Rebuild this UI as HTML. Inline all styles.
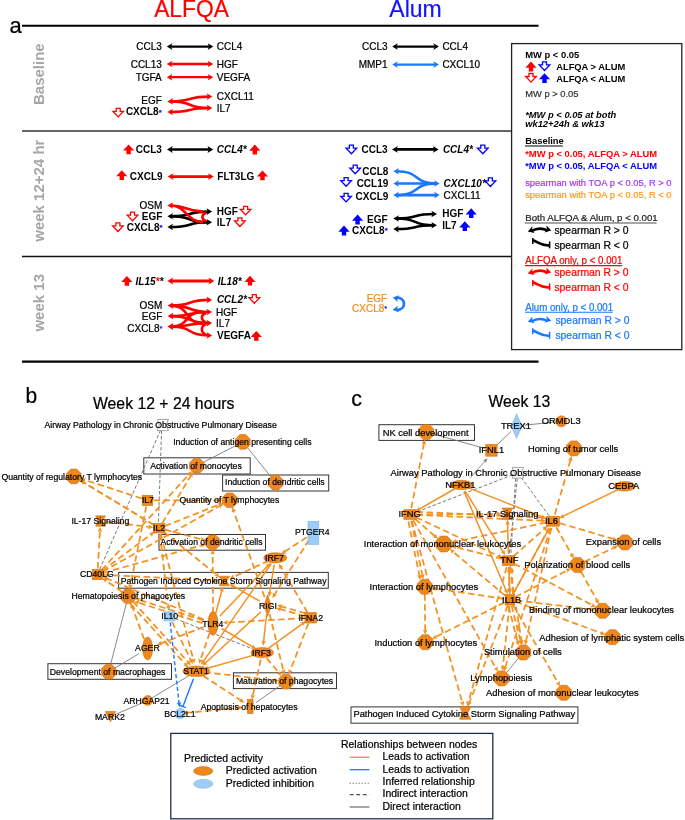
<!DOCTYPE html>
<html><head><meta charset="utf-8"><style>
html,body{margin:0;padding:0;background:#fff;width:685px;height:820px;overflow:hidden}
svg{display:block;font-family:"Liberation Sans",sans-serif;will-change:transform}
</style></head><body>
<svg width="685" height="820" viewBox="0 0 685 820">
<rect width="685" height="820" fill="#fff"/>
<text x="9.5" y="33.5" font-size="22" fill="#000" stroke="#000" stroke-width="0.22" transform="matrix(1,0,0,1.03,0,-1.005)">a</text>
<line x1="22" y1="25.8" x2="538.5" y2="25.8" stroke="#000" stroke-width="2.1"/>
<text x="191.5" y="16.5" font-size="22.8" text-anchor="middle" fill="#ff0000" stroke="#ff0000" stroke-width="0.22" transform="matrix(1,0,0,1.03,0,-0.495)">ALFQA</text>
<text x="415.5" y="16.5" font-size="23" text-anchor="middle" fill="#1414ff" stroke="#1414ff" stroke-width="0.22" transform="matrix(1,0,0,1.03,0,-0.495)">Alum</text>
<line x1="22" y1="131" x2="511" y2="131" stroke="#333" stroke-width="1.4"/>
<line x1="22" y1="256.5" x2="511" y2="256.5" stroke="#111" stroke-width="1.4"/>
<line x1="22" y1="361.6" x2="538.5" y2="361.6" stroke="#000" stroke-width="2.3"/>
<text transform="translate(43.8,74.2) rotate(-90)" x="0" y="0" text-anchor="middle" font-size="15" font-weight="bold" fill="#a6a6a6">Baseline</text>
<text transform="translate(43.8,190.7) rotate(-90)" x="0" y="0" text-anchor="middle" font-size="15" font-weight="bold" fill="#a6a6a6">week 12+24 hr</text>
<text transform="translate(43.8,302.8) rotate(-90)" x="0" y="0" text-anchor="middle" font-size="15" font-weight="bold" fill="#a6a6a6">week 13</text>
<text x="161.8" y="50.2" font-size="10" text-anchor="end" fill="#000" stroke="#000" stroke-width="0.22" transform="matrix(1,0,0,1.03,0,-1.506)">CCL3</text>
<line x1="169.8" y1="46.6" x2="210.3" y2="46.6" stroke="#000" stroke-width="2.3"/>
<polygon points="166.80,46.60 172.40,43.30 171.00,46.60 172.40,49.90" fill="#000"/>
<polygon points="213.30,46.60 207.70,49.90 209.10,46.60 207.70,43.30" fill="#000"/>
<text x="216.8" y="50.2" font-size="10" fill="#000" stroke="#000" stroke-width="0.22" transform="matrix(1,0,0,1.03,0,-1.506)">CCL4</text>
<text x="161.8" y="67.6" font-size="10" text-anchor="end" fill="#000" stroke="#000" stroke-width="0.22" transform="matrix(1,0,0,1.03,0,-2.028)">CCL13</text>
<line x1="169.8" y1="64.0" x2="210.3" y2="64.0" stroke="#ff0000" stroke-width="2.3"/>
<polygon points="166.80,64.00 172.40,60.70 171.00,64.00 172.40,67.30" fill="#ff0000"/>
<polygon points="213.30,64.00 207.70,67.30 209.10,64.00 207.70,60.70" fill="#ff0000"/>
<text x="216.8" y="67.6" font-size="10" fill="#000" stroke="#000" stroke-width="0.22" transform="matrix(1,0,0,1.03,0,-2.028)">HGF</text>
<text x="161.8" y="80.9" font-size="10" text-anchor="end" fill="#000" stroke="#000" stroke-width="0.22" transform="matrix(1,0,0,1.03,0,-2.427)">TGFA</text>
<line x1="169.8" y1="77.2" x2="210.3" y2="77.2" stroke="#ff0000" stroke-width="2.3"/>
<polygon points="166.80,77.20 172.40,73.90 171.00,77.20 172.40,80.50" fill="#ff0000"/>
<polygon points="213.30,77.20 207.70,80.50 209.10,77.20 207.70,73.90" fill="#ff0000"/>
<text x="216.8" y="80.9" font-size="10" fill="#000" stroke="#000" stroke-width="0.22" transform="matrix(1,0,0,1.03,0,-2.427)">VEGFA</text>
<text x="161.8" y="104.4" font-size="10" text-anchor="end" fill="#000" stroke="#000" stroke-width="0.22" transform="matrix(1,0,0,1.03,0,-3.132)">EGF</text>
<text x="161.6" y="115.4" font-size="10" font-weight="bold" text-anchor="end" fill="#000" transform="matrix(1,0,0,1.03,0,-3.462)">CXCL8<tspan fill="#0000ff" stroke="#0000ff" stroke-width="0.15" font-size="7.5" dy="-0.8">*</tspan></text>
<polygon points="118.20,116.90 123.50,111.30 120.20,111.30 120.20,108.30 116.20,108.30 116.20,111.30 112.90,111.30" fill="#fff" stroke="#ff0000" stroke-width="1.3" stroke-linejoin="miter"/>
<text x="216.8" y="99.7" font-size="10" fill="#000" stroke="#000" stroke-width="0.22" transform="matrix(1,0,0,1.03,0,-2.991)">CXCL11</text>
<text x="216.8" y="112.5" font-size="10" fill="#000" stroke="#000" stroke-width="0.22" transform="matrix(1,0,0,1.03,0,-3.375)">IL7</text>
<path d="M170.4,101.4 C194.34,101.4 185.36,96.6 209.3,96.6" fill="none" stroke="#ff0000" stroke-width="2.6"/>
<polygon points="167.40,101.40 173.00,98.10 171.60,101.40 173.00,104.70" fill="#ff0000"/>
<polygon points="212.30,96.60 206.70,99.90 208.10,96.60 206.70,93.30" fill="#ff0000"/>
<path d="M170.4,101.4 C194.34,101.4 185.36,108.0 209.3,108.0" fill="none" stroke="#ff0000" stroke-width="2.6"/>
<polygon points="212.30,108.00 206.70,111.30 208.10,108.00 206.70,104.70" fill="#ff0000"/>
<path d="M170.4,112.0 C194.34,112.0 185.36,108.0 209.3,108.0" fill="none" stroke="#ff0000" stroke-width="2.6"/>
<polygon points="167.40,112.00 173.00,108.70 171.60,112.00 173.00,115.30" fill="#ff0000"/>
<text x="387.6" y="50.3" font-size="10" text-anchor="end" fill="#000" stroke="#000" stroke-width="0.22" transform="matrix(1,0,0,1.03,0,-1.509)">CCL3</text>
<line x1="395.2" y1="46.6" x2="435.9" y2="46.6" stroke="#000" stroke-width="2.3"/>
<polygon points="392.20,46.60 397.80,43.30 396.40,46.60 397.80,49.90" fill="#000"/>
<polygon points="438.90,46.60 433.30,49.90 434.70,46.60 433.30,43.30" fill="#000"/>
<text x="442.4" y="50.3" font-size="10" fill="#000" stroke="#000" stroke-width="0.22" transform="matrix(1,0,0,1.03,0,-1.509)">CCL4</text>
<text x="387.6" y="68.1" font-size="10" text-anchor="end" fill="#000" stroke="#000" stroke-width="0.22" transform="matrix(1,0,0,1.03,0,-2.043)">MMP1</text>
<line x1="395.2" y1="64.6" x2="435.9" y2="64.6" stroke="#1a78ff" stroke-width="2.3"/>
<polygon points="392.20,64.60 397.80,61.30 396.40,64.60 397.80,67.90" fill="#1a78ff"/>
<polygon points="438.90,64.60 433.30,67.90 434.70,64.60 433.30,61.30" fill="#1a78ff"/>
<text x="442.4" y="68.1" font-size="10" fill="#000" stroke="#000" stroke-width="0.22" transform="matrix(1,0,0,1.03,0,-2.043)">CXCL10</text>
<polygon points="128.60,144.40 134.20,150.50 130.80,150.50 130.80,154.20 126.40,154.20 126.40,150.50 123.00,150.50" fill="#ff0000"/>
<text x="161.8" y="153.0" font-size="10" font-weight="bold" text-anchor="end" fill="#000" transform="matrix(1,0,0,1.03,0,-4.590)">CCL3</text>
<line x1="170.0" y1="149.5" x2="210.3" y2="149.5" stroke="#000" stroke-width="2.7"/>
<polygon points="167.00,149.50 172.80,146.05 171.40,149.50 172.80,152.95" fill="#000"/>
<polygon points="213.30,149.50 207.50,152.95 208.90,149.50 207.50,146.05" fill="#000"/>
<text x="216.8" y="153.0" font-size="10" font-weight="bold" font-style="italic" fill="#000" transform="matrix(1,0,0,1.03,0,-4.590)">CCL4*</text>
<polygon points="254.80,144.60 260.40,150.70 257.00,150.70 257.00,154.40 252.60,154.40 252.60,150.70 249.20,150.70" fill="#ff0000"/>
<polygon points="121.80,170.20 127.40,176.30 124.00,176.30 124.00,180.00 119.60,180.00 119.60,176.30 116.20,176.30" fill="#ff0000"/>
<text x="162.6" y="180.5" font-size="10" font-weight="bold" text-anchor="end" fill="#000" transform="matrix(1,0,0,1.03,0,-5.415)">CXCL9</text>
<line x1="170.7" y1="176.6" x2="210.8" y2="176.6" stroke="#ff0000" stroke-width="2.7"/>
<polygon points="167.70,176.60 173.50,173.15 172.10,176.60 173.50,180.05" fill="#ff0000"/>
<polygon points="213.80,176.60 208.00,180.05 209.40,176.60 208.00,173.15" fill="#ff0000"/>
<text x="217.3" y="180.5" font-size="10" font-weight="bold" fill="#000" transform="matrix(1,0,0,1.03,0,-5.415)">FLT3LG</text>
<polygon points="262.50,170.40 268.10,176.50 264.70,176.50 264.70,180.20 260.30,180.20 260.30,176.50 256.90,176.50" fill="#ff0000"/>
<text x="162.3" y="208.9" font-size="10" text-anchor="end" fill="#000" stroke="#000" stroke-width="0.22" transform="matrix(1,0,0,1.03,0,-6.267)">OSM</text>
<text x="162.3" y="220.2" font-size="10" font-weight="bold" text-anchor="end" fill="#000" transform="matrix(1,0,0,1.03,0,-6.606)">EGF</text>
<polygon points="132.50,220.70 137.80,215.10 134.50,215.10 134.50,212.10 130.50,212.10 130.50,215.10 127.20,215.10" fill="#fff" stroke="#ff0000" stroke-width="1.3" stroke-linejoin="miter"/>
<text x="162.4" y="231.2" font-size="10" font-weight="bold" text-anchor="end" fill="#000" transform="matrix(1,0,0,1.03,0,-6.936)">CXCL8<tspan fill="#0000ff" stroke="#0000ff" stroke-width="0.15" font-size="7.5" dy="-0.8">*</tspan></text>
<polygon points="117.90,231.50 123.20,225.90 119.90,225.90 119.90,222.90 115.90,222.90 115.90,225.90 112.60,225.90" fill="#fff" stroke="#ff0000" stroke-width="1.3" stroke-linejoin="miter"/>
<text x="216.8" y="215.0" font-size="10" font-weight="bold" fill="#000" transform="matrix(1,0,0,1.03,0,-6.450)">HGF</text>
<polygon points="245.60,214.90 250.90,209.30 247.60,209.30 247.60,206.30 243.60,206.30 243.60,209.30 240.30,209.30" fill="#fff" stroke="#ff0000" stroke-width="1.3" stroke-linejoin="miter"/>
<text x="216.8" y="226.0" font-size="10" font-weight="bold" fill="#000" transform="matrix(1,0,0,1.03,0,-6.780)">IL7</text>
<polygon points="239.90,226.50 245.20,220.90 241.90,220.90 241.90,217.90 237.90,217.90 237.90,220.90 234.60,220.90" fill="#fff" stroke="#ff0000" stroke-width="1.3" stroke-linejoin="miter"/>
<path d="M170.4,216.2 C194.22,216.2 185.28,211.6 209.1,211.6" fill="none" stroke="#000" stroke-width="2.6"/>
<polygon points="167.40,216.20 173.00,212.90 171.60,216.20 173.00,219.50" fill="#000"/>
<polygon points="212.10,211.60 206.50,214.90 207.90,211.60 206.50,208.30" fill="#000"/>
<path d="M170.4,216.2 C194.22,216.2 185.28,222.3 209.1,222.3" fill="none" stroke="#000" stroke-width="2.6"/>
<polygon points="212.10,222.30 206.50,225.60 207.90,222.30 206.50,219.00" fill="#000"/>
<path d="M170.4,227.0 C194.22,227.0 185.28,222.3 209.1,222.3" fill="none" stroke="#000" stroke-width="2.6"/>
<polygon points="167.40,227.00 173.00,223.70 171.60,227.00 173.00,230.30" fill="#000"/>
<path d="M170.4,205.5 C186.7,205.5 186.7,211.6 203.0,211.6" fill="none" stroke="#ff0000" stroke-width="2.6"/>
<polygon points="167.40,205.50 173.00,202.20 171.60,205.50 173.00,208.80" fill="#ff0000"/>
<path d="M170.4,205.5 C186.7,205.5 186.7,222.3 203.0,222.3" fill="none" stroke="#ff0000" stroke-width="2.6"/>
<path d="M206.5,212.5 C201,214.5 201,219.5 206.5,221.5" fill="none" stroke="#ff0000" stroke-width="2.6"/>
<polygon points="351.40,153.70 356.70,148.10 353.40,148.10 353.40,145.10 349.40,145.10 349.40,148.10 346.10,148.10" fill="#fff" stroke="#0000ff" stroke-width="1.3" stroke-linejoin="miter"/>
<text x="387.6" y="152.9" font-size="10" font-weight="bold" text-anchor="end" fill="#000" transform="matrix(1,0,0,1.03,0,-4.587)">CCL3</text>
<line x1="395.0" y1="149.4" x2="435.7" y2="149.4" stroke="#000" stroke-width="2.7"/>
<polygon points="392.00,149.40 397.80,145.95 396.40,149.40 397.80,152.85" fill="#000"/>
<polygon points="438.70,149.40 432.90,152.85 434.30,149.40 432.90,145.95" fill="#000"/>
<text x="442.9" y="152.9" font-size="10" font-weight="bold" font-style="italic" fill="#000" transform="matrix(1,0,0,1.03,0,-4.587)">CCL4*</text>
<polygon points="482.80,153.70 488.10,148.10 484.80,148.10 484.80,145.10 480.80,145.10 480.80,148.10 477.50,148.10" fill="#fff" stroke="#0000ff" stroke-width="1.3" stroke-linejoin="miter"/>
<polygon points="355.20,173.70 360.50,168.10 357.20,168.10 357.20,165.10 353.20,165.10 353.20,168.10 349.90,168.10" fill="#fff" stroke="#0000ff" stroke-width="1.3" stroke-linejoin="miter"/>
<text x="388.3" y="174.7" font-size="10" font-weight="bold" text-anchor="end" fill="#000" transform="matrix(1,0,0,1.03,0,-5.241)">CCL8</text>
<polygon points="346.10,186.30 351.40,180.70 348.10,180.70 348.10,177.70 344.10,177.70 344.10,180.70 340.80,180.70" fill="#fff" stroke="#0000ff" stroke-width="1.3" stroke-linejoin="miter"/>
<text x="388.3" y="187.1" font-size="10" font-weight="bold" text-anchor="end" fill="#000" transform="matrix(1,0,0,1.03,0,-5.613)">CCL19</text>
<polygon points="346.10,201.90 351.40,196.30 348.10,196.30 348.10,193.30 344.10,193.30 344.10,196.30 340.80,196.30" fill="#fff" stroke="#0000ff" stroke-width="1.3" stroke-linejoin="miter"/>
<text x="388.3" y="199.9" font-size="10" font-weight="bold" text-anchor="end" fill="#000" transform="matrix(1,0,0,1.03,0,-5.997)">CXCL9</text>
<text x="443.6" y="187.1" font-size="10" font-weight="bold" font-style="italic" fill="#000" transform="matrix(1,0,0,1.03,0,-5.613)">CXCL10*</text>
<polygon points="490.40,186.50 495.70,180.90 492.40,180.90 492.40,177.90 488.40,177.90 488.40,180.90 485.10,180.90" fill="#fff" stroke="#0000ff" stroke-width="1.3" stroke-linejoin="miter"/>
<text x="443.6" y="198.6" font-size="10" fill="#000" stroke="#000" stroke-width="0.22" transform="matrix(1,0,0,1.03,0,-5.958)">CXCL11</text>
<path d="M396.3,171.2 C421.14,171.2 411.86,183.5 436.7,183.5" fill="none" stroke="#1a78ff" stroke-width="2.6"/>
<polygon points="393.30,171.20 398.90,167.90 397.50,171.20 398.90,174.50" fill="#1a78ff"/>
<path d="M396.3,183.5 C421.14,183.5 411.86,183.5 436.7,183.5" fill="none" stroke="#1a78ff" stroke-width="2.6"/>
<polygon points="393.30,183.50 398.90,180.20 397.50,183.50 398.90,186.80" fill="#1a78ff"/>
<polygon points="439.70,183.50 434.10,186.80 435.50,183.50 434.10,180.20" fill="#1a78ff"/>
<path d="M396.3,195.1 C421.14,195.1 411.86,183.5 436.7,183.5" fill="none" stroke="#1a78ff" stroke-width="2.6"/>
<path d="M396.3,195.1 C421.14,195.1 411.86,195.1 436.7,195.1" fill="none" stroke="#1a78ff" stroke-width="2.6"/>
<polygon points="393.30,195.10 398.90,191.80 397.50,195.10 398.90,198.40" fill="#1a78ff"/>
<polygon points="439.70,195.10 434.10,198.40 435.50,195.10 434.10,191.80" fill="#1a78ff"/>
<polygon points="357.60,214.60 363.20,220.70 359.80,220.70 359.80,224.40 355.40,224.40 355.40,220.70 352.00,220.70" fill="#0000ff"/>
<text x="387.6" y="222.7" font-size="10" font-weight="bold" text-anchor="end" fill="#000" transform="matrix(1,0,0,1.03,0,-6.681)">EGF</text>
<polygon points="344.00,225.60 349.60,231.70 346.20,231.70 346.20,235.40 341.80,235.40 341.80,231.70 338.40,231.70" fill="#0000ff"/>
<text x="387.6" y="234.1" font-size="10" font-weight="bold" text-anchor="end" fill="#000" transform="matrix(1,0,0,1.03,0,-7.023)">CXCL8<tspan fill="#0000ff" stroke="#0000ff" stroke-width="0.15" font-size="7.5" dy="-0.8">*</tspan></text>
<text x="442.2" y="217.2" font-size="10" font-weight="bold" fill="#000" transform="matrix(1,0,0,1.03,0,-6.516)">HGF</text>
<polygon points="471.20,208.30 476.80,214.40 473.40,214.40 473.40,218.10 469.00,218.10 469.00,214.40 465.60,214.40" fill="#0000ff"/>
<text x="442.2" y="229.1" font-size="10" font-weight="bold" fill="#000" transform="matrix(1,0,0,1.03,0,-6.873)">IL7</text>
<polygon points="464.80,221.30 470.40,227.40 467.00,227.40 467.00,231.10 462.60,231.10 462.60,227.40 459.20,227.40" fill="#0000ff"/>
<path d="M396.3,218.5 C419.52,218.5 410.78000000000003,214.0 434.0,214.0" fill="none" stroke="#000" stroke-width="2.6"/>
<polygon points="393.30,218.50 398.90,215.20 397.50,218.50 398.90,221.80" fill="#000"/>
<polygon points="437.00,214.00 431.40,217.30 432.80,214.00 431.40,210.70" fill="#000"/>
<path d="M396.3,218.5 C419.52,218.5 410.78000000000003,225.2 434.0,225.2" fill="none" stroke="#000" stroke-width="2.6"/>
<polygon points="437.00,225.20 431.40,228.50 432.80,225.20 431.40,221.90" fill="#000"/>
<path d="M396.3,229.1 C419.52,229.1 410.78000000000003,225.2 434.0,225.2" fill="none" stroke="#000" stroke-width="2.6"/>
<polygon points="393.30,229.10 398.90,225.80 397.50,229.10 398.90,232.40" fill="#000"/>
<polygon points="126.90,276.00 132.50,282.10 129.10,282.10 129.10,285.80 124.70,285.80 124.70,282.10 121.30,282.10" fill="#ff0000"/>
<text x="135.5" y="285.0" font-size="10" font-weight="bold" font-style="italic" fill="#000" transform="matrix(1,0,0,1.03,0,-8.550)">IL15<tspan fill="#ff0000" stroke="none">*</tspan>*</text>
<line x1="170.4" y1="281.0" x2="211.3" y2="281.0" stroke="#ff0000" stroke-width="2.8"/>
<polygon points="167.40,281.00 173.20,277.55 171.80,281.00 173.20,284.45" fill="#ff0000"/>
<polygon points="214.30,281.00 208.50,284.45 209.90,281.00 208.50,277.55" fill="#ff0000"/>
<text x="217.7" y="285.0" font-size="10" font-weight="bold" font-style="italic" fill="#000" transform="matrix(1,0,0,1.03,0,-8.550)">IL18*</text>
<polygon points="250.00,275.80 255.60,281.90 252.20,281.90 252.20,285.60 247.80,285.60 247.80,281.90 244.40,281.90" fill="#ff0000"/>
<text x="216.9" y="303.4" font-size="10" font-weight="bold" font-style="italic" fill="#000" transform="matrix(1,0,0,1.03,0,-9.102)">CCL2*</text>
<polygon points="254.30,303.30 259.60,297.70 256.30,297.70 256.30,294.70 252.30,294.70 252.30,297.70 249.00,297.70" fill="#fff" stroke="#ff0000" stroke-width="1.3" stroke-linejoin="miter"/>
<text x="162.3" y="309.1" font-size="10" text-anchor="end" fill="#000" stroke="#000" stroke-width="0.22" transform="matrix(1,0,0,1.03,0,-9.273)">OSM</text>
<text x="162.3" y="320.4" font-size="10" text-anchor="end" fill="#000" stroke="#000" stroke-width="0.22" transform="matrix(1,0,0,1.03,0,-9.612)">EGF</text>
<text x="162.4" y="331.7" font-size="10" text-anchor="end" fill="#000" stroke="#000" stroke-width="0.22" transform="matrix(1,0,0,1.03,0,-9.951)">CXCL8<tspan fill="#0000ff" stroke="#0000ff" stroke-width="0.15" font-size="7.5" dy="-0.8">*</tspan></text>
<text x="216.1" y="315.7" font-size="10" fill="#000" stroke="#000" stroke-width="0.22" transform="matrix(1,0,0,1.03,0,-9.471)">HGF</text>
<text x="216.1" y="327.0" font-size="10" fill="#000" stroke="#000" stroke-width="0.22" transform="matrix(1,0,0,1.03,0,-9.810)">IL7</text>
<text x="217.0" y="339.3" font-size="10" font-weight="bold" fill="#000" transform="matrix(1,0,0,1.03,0,-10.179)">VEGFA</text>
<polygon points="256.30,331.00 261.90,337.10 258.50,337.10 258.50,340.80 254.10,340.80 254.10,337.10 250.70,337.10" fill="#ff0000"/>
<path d="M170.7,305.6 C194.34,305.6 185.45999999999998,299.9 209.1,299.9" fill="none" stroke="#ff0000" stroke-width="2.6"/>
<polygon points="167.70,305.60 173.30,302.30 171.90,305.60 173.30,308.90" fill="#ff0000"/>
<polygon points="212.10,299.90 206.50,303.20 207.90,299.90 206.50,296.60" fill="#ff0000"/>
<path d="M170.7,305.6 C194.34,305.6 185.45999999999998,312.0 209.1,312.0" fill="none" stroke="#ff0000" stroke-width="2.6"/>
<polygon points="212.10,312.00 206.50,315.30 207.90,312.00 206.50,308.70" fill="#ff0000"/>
<path d="M170.7,305.6 C190.68,305.6 183.01999999999998,323.1 203.0,323.1" fill="none" stroke="#ff0000" stroke-width="2.6"/>
<path d="M170.7,316.1 C194.34,316.1 185.45999999999998,312.0 209.1,312.0" fill="none" stroke="#ff0000" stroke-width="2.6"/>
<polygon points="167.70,316.10 173.30,312.80 171.90,316.10 173.30,319.40" fill="#ff0000"/>
<path d="M170.7,316.1 C194.34,316.1 185.45999999999998,323.1 209.1,323.1" fill="none" stroke="#ff0000" stroke-width="2.6"/>
<polygon points="212.10,323.10 206.50,326.40 207.90,323.10 206.50,319.80" fill="#ff0000"/>
<path d="M170.7,326.6 C190.68,326.6 183.01999999999998,312.0 203.0,312.0" fill="none" stroke="#ff0000" stroke-width="2.6"/>
<polygon points="167.70,326.60 173.30,323.30 171.90,326.60 173.30,329.90" fill="#ff0000"/>
<path d="M170.7,326.6 C194.34,326.6 185.45999999999998,323.1 209.1,323.1" fill="none" stroke="#ff0000" stroke-width="2.6"/>
<path d="M170.7,326.6 C194.34,326.6 185.45999999999998,335.4 209.1,335.4" fill="none" stroke="#ff0000" stroke-width="2.6"/>
<polygon points="167.70,326.60 173.30,323.30 171.90,326.60 173.30,329.90" fill="#ff0000"/>
<polygon points="212.10,335.40 206.50,338.70 207.90,335.40 206.50,332.10" fill="#ff0000"/>
<path d="M206,313.0 C200.5,315.0 200.5,320.1 206,322.6" fill="none" stroke="#ff0000" stroke-width="2.6"/>
<path d="M206,324.1 C200.5,326.1 200.5,332.4 206,334.9" fill="none" stroke="#ff0000" stroke-width="2.6"/>
<text x="387.2" y="301.6" font-size="10" text-anchor="end" fill="#f08c1e" stroke="#f08c1e" stroke-width="0.22" transform="matrix(1,0,0,1.03,0,-9.048)">EGF</text>
<text x="387.2" y="312.1" font-size="10" text-anchor="end" fill="#f08c1e" stroke="#f08c1e" stroke-width="0.22" transform="matrix(1,0,0,1.03,0,-9.363)">CXCL8<tspan fill="#0000ff" stroke="#0000ff" stroke-width="0.15" font-size="7.5" dy="-0.8">*</tspan></text>
<path d="M396.5,297.6 C406.5,297.6 406.5,310 396.5,310" fill="none" stroke="#1a78ff" stroke-width="2.6"/>
<polygon points="392.60,297.40 399.18,295.16 397.01,298.29 397.79,302.02" fill="#1a78ff"/>
<polygon points="392.60,310.00 397.79,305.38 397.01,309.11 399.18,312.24" fill="#1a78ff"/>
<rect x="511.6" y="43.6" width="170.2" height="306" fill="#fff" stroke="#222" stroke-width="1.3"/>
<text x="525.2" y="58.1" font-size="9.4" font-weight="bold" fill="#000" transform="matrix(1,0,0,1.03,0,-1.743)">MW p &lt; 0.05</text>
<polygon points="531.00,61.60 536.60,67.70 533.20,67.70 533.20,71.40 528.80,71.40 528.80,67.70 525.40,67.70" fill="#ff0000"/>
<polygon points="544.50,70.50 549.80,64.90 546.50,64.90 546.50,61.90 542.50,61.90 542.50,64.90 539.20,64.90" fill="#fff" stroke="#0000ff" stroke-width="1.3" stroke-linejoin="miter"/>
<text x="556.2" y="70.0" font-size="9.35" font-weight="bold" fill="#000" transform="matrix(1,0,0,1.03,0,-2.100)">ALFQA &gt; ALUM</text>
<polygon points="531.00,82.10 536.30,76.50 533.00,76.50 533.00,73.50 529.00,73.50 529.00,76.50 525.70,76.50" fill="#fff" stroke="#ff0000" stroke-width="1.3" stroke-linejoin="miter"/>
<polygon points="544.50,73.20 550.10,79.30 546.70,79.30 546.70,83.00 542.30,83.00 542.30,79.30 538.90,79.30" fill="#0000ff"/>
<text x="556.2" y="81.8" font-size="9.35" font-weight="bold" fill="#000" transform="matrix(1,0,0,1.03,0,-2.454)">ALFQA &lt; ALUM</text>
<text x="525.2" y="96.7" font-size="9.35" fill="#333" stroke="#333" stroke-width="0.22" transform="matrix(1,0,0,1.03,0,-2.901)">MW p &gt; 0.05</text>
<text x="525.2" y="117.8" font-size="9.35" font-weight="bold" font-style="italic" fill="#000" transform="matrix(1,0,0,1.03,0,-3.534)">*MW p &lt; 0.05 at both</text>
<text x="525.2" y="127.5" font-size="9.35" font-weight="bold" font-style="italic" fill="#000" transform="matrix(1,0,0,1.03,0,-3.825)">wk12+24h &amp; wk13</text>
<text x="525.2" y="144.5" font-size="9.4" font-weight="bold" fill="#000" transform="matrix(1,0,0,1.03,0,-4.335)">Baseline</text>
<text x="525.2" y="157.0" font-size="9.4" font-weight="bold" fill="#ff0000" transform="matrix(1,0,0,1.03,0,-4.710)">*MW p &lt; 0.05, ALFQA &gt; ALUM</text>
<text x="525.2" y="168.9" font-size="9.4" font-weight="bold" fill="#0000ff" transform="matrix(1,0,0,1.03,0,-5.067)">*MW p &lt; 0.05, ALFQA &lt; ALUM</text>
<text x="525.2" y="185.7" font-size="9.36" fill="#a23cf5" stroke="#a23cf5" stroke-width="0.22" transform="matrix(1,0,0,1.03,0,-5.571)">spearman with TOA p &lt; 0.05, R &gt; 0</text>
<text x="525.2" y="197.8" font-size="9.36" fill="#ff9a1e" stroke="#ff9a1e" stroke-width="0.22" transform="matrix(1,0,0,1.03,0,-5.934)">spearman with TOA p &lt; 0.05, R &lt; 0</text>
<text x="525.2" y="221.4" font-size="9.68" fill="#222" stroke="#222" stroke-width="0.22" transform="matrix(1,0,0,1.03,0,-6.642)">Both ALFQA &amp; Alum, p &lt; 0.001</text>
<text x="554.4" y="234.2" font-size="10.4" fill="#000" stroke="#000" stroke-width="0.22" transform="matrix(1,0,0,1.03,0,-7.026)">spearman R &gt; 0</text>
<text x="554.4" y="248.7" font-size="10.4" fill="#000" stroke="#000" stroke-width="0.22" transform="matrix(1,0,0,1.03,0,-7.461)">spearman R &lt; 0</text>
<path d="M531.5,230.99999999999997 Q539.5,226.6 547.5,230.49999999999997" fill="none" stroke="#000" stroke-width="2.6"/>
<polygon points="527.80,231.40 532.50,226.28 532.10,230.07 534.57,232.97" fill="#000"/>
<polygon points="551.30,230.50 544.62,232.41 546.94,229.39 546.35,225.62" fill="#000"/>
<path d="M532.8,240.2 C538,241.79999999999998 541,245.99999999999997 549.4,245.39999999999998" fill="none" stroke="#000" stroke-width="2.6"/>
<line x1="532.8" y1="237.89999999999998" x2="532.8" y2="243.99999999999997" stroke="#000" stroke-width="1.5"/>
<line x1="549.6" y1="241.39999999999998" x2="549.6" y2="248.39999999999998" stroke="#000" stroke-width="1.5"/>
<text x="554.4" y="276.2" font-size="10.4" fill="#ff0000" stroke="#ff0000" stroke-width="0.22" transform="matrix(1,0,0,1.03,0,-8.286)">spearman R &gt; 0</text>
<text x="554.4" y="290.7" font-size="10.4" fill="#ff0000" stroke="#ff0000" stroke-width="0.22" transform="matrix(1,0,0,1.03,0,-8.721)">spearman R &lt; 0</text>
<path d="M531.5,273.0 Q539.5,268.6 547.5,272.5" fill="none" stroke="#ff0000" stroke-width="2.6"/>
<polygon points="527.80,273.40 532.50,268.28 532.10,272.07 534.57,274.97" fill="#ff0000"/>
<polygon points="551.30,272.50 544.62,274.41 546.94,271.39 546.35,267.62" fill="#ff0000"/>
<path d="M532.8,282.2 C538,283.8 541,288.0 549.4,287.40000000000003" fill="none" stroke="#ff0000" stroke-width="2.6"/>
<line x1="532.8" y1="279.90000000000003" x2="532.8" y2="286.0" stroke="#ff0000" stroke-width="1.5"/>
<line x1="549.6" y1="283.40000000000003" x2="549.6" y2="290.40000000000003" stroke="#ff0000" stroke-width="1.5"/>
<text x="555.4" y="324.0" font-size="10.4" fill="#1a78ff" stroke="#1a78ff" stroke-width="0.22" transform="matrix(1,0,0,1.03,0,-9.720)">spearman R &gt; 0</text>
<text x="555.4" y="339.0" font-size="10.4" fill="#1a78ff" stroke="#1a78ff" stroke-width="0.22" transform="matrix(1,0,0,1.03,0,-10.170)">spearman R &lt; 0</text>
<path d="M531.5,321.3 Q539.5,316.90000000000003 547.5,320.8" fill="none" stroke="#1a78ff" stroke-width="2.6"/>
<polygon points="527.80,321.70 532.50,316.58 532.10,320.37 534.57,323.27" fill="#1a78ff"/>
<polygon points="551.30,320.80 544.62,322.71 546.94,319.69 546.35,315.92" fill="#1a78ff"/>
<path d="M532.8,330.5 C538,332.1 541,336.3 549.4,335.70000000000005" fill="none" stroke="#1a78ff" stroke-width="2.6"/>
<line x1="532.8" y1="328.20000000000005" x2="532.8" y2="334.3" stroke="#1a78ff" stroke-width="1.5"/>
<line x1="549.6" y1="331.70000000000005" x2="549.6" y2="338.70000000000005" stroke="#1a78ff" stroke-width="1.5"/>
<text x="525.2" y="264.4" font-size="9.71" fill="#ff0000" stroke="#ff0000" stroke-width="0.22" transform="matrix(1,0,0,1.03,0,-7.932)">ALFQA only, p &lt; 0.001</text>
<text x="525.2" y="310.9" font-size="9.71" fill="#1a78ff" stroke="#1a78ff" stroke-width="0.22" transform="matrix(1,0,0,1.03,0,-9.327)">Alum only, p &lt; 0.001</text>
<line x1="525" y1="146.0" x2="562.8" y2="146.0" stroke="#000" stroke-width="1.1"/>
<line x1="524.7" y1="223.0" x2="656.6" y2="223.0" stroke="#888" stroke-width="1.4"/>
<line x1="525" y1="265.6" x2="622" y2="265.6" stroke="#ff0000" stroke-width="1.1"/>
<line x1="525" y1="312.3" x2="612.7" y2="312.3" stroke="#1a78ff" stroke-width="1.1"/>
<text x="25.6" y="402.9" font-size="21" fill="#000" stroke="#000" stroke-width="0.22" transform="matrix(1,0,0,1.03,0,-12.087)">b</text>
<text x="93" y="409.2" font-size="15.8" fill="#000" stroke="#000" stroke-width="0.22" transform="matrix(1,0,0,1.03,0,-12.276)">Week 12 + 24 hours</text>
<rect x="143.8" y="457.8" width="106.39999999999998" height="16.19999999999999" fill="#fff" stroke="#333" stroke-width="1"/>
<rect x="222.6" y="475.0" width="106.1" height="16.0" fill="#fff" stroke="#333" stroke-width="1"/>
<rect x="159.0" y="534.5" width="106.5" height="15.700000000000045" fill="#fff" stroke="#333" stroke-width="1"/>
<rect x="118.6" y="572.4" width="209.70000000000002" height="15.800000000000068" fill="#fff" stroke="#333" stroke-width="1"/>
<rect x="47.9" y="663.7" width="123.6" height="15.599999999999909" fill="#fff" stroke="#333" stroke-width="1"/>
<rect x="233.4" y="672.8" width="103.1" height="15.800000000000068" fill="#fff" stroke="#333" stroke-width="1"/>
<line x1="160.6" y1="430.0" x2="99.9" y2="569.0" stroke="#7a7a7a" stroke-width="1.0" stroke-dasharray="3.5,2"/>
<line x1="161.6" y1="430.5" x2="158.4" y2="522.2" stroke="#7a7a7a" stroke-width="1.0" stroke-dasharray="3.5,2"/>
<line x1="203.3" y1="462.4" x2="236.3" y2="445.3" stroke="#7a7a7a" stroke-width="0.9"/>
<line x1="247.4" y1="447.6" x2="271.0" y2="476.9" stroke="#7a7a7a" stroke-width="0.9"/>
<line x1="126.4" y1="603.4" x2="110.5" y2="664.7" stroke="#7a7a7a" stroke-width="0.9"/>
<line x1="139.0" y1="653.6" x2="115.0" y2="668.0" stroke="#7a7a7a" stroke-width="0.9"/>
<line x1="189.5" y1="675.4" x2="152.0" y2="697.9" stroke="#7a7a7a" stroke-width="0.9"/>
<line x1="143.1" y1="702.5" x2="115.1" y2="714.6" stroke="#7a7a7a" stroke-width="0.9"/>
<line x1="280.0" y1="685.8" x2="256.0" y2="702.5" stroke="#7a7a7a" stroke-width="0.9"/>
<line x1="175.1" y1="618.6" x2="255.8" y2="650.1" stroke="#7a7a7a" stroke-width="1.0" stroke-dasharray="3.5,2"/>
<line x1="141.8" y1="498.5" x2="84.1" y2="479.7" stroke="#f39122" stroke-width="1.75" stroke-dasharray="6.5,3.5"/>
<polygon points="80.74,478.66 86.21,478.02 84.73,479.96 84.78,482.40" fill="#f39122"/>
<line x1="154.1" y1="525.1" x2="83.0" y2="482.0" stroke="#f39122" stroke-width="1.75" stroke-dasharray="6.5,3.5"/>
<polygon points="80.04,480.19 85.51,480.81 83.63,482.36 83.12,484.75" fill="#f39122"/>
<line x1="162.3" y1="523.1" x2="191.2" y2="475.1" stroke="#f39122" stroke-width="1.75" stroke-dasharray="6.5,3.5"/>
<polygon points="193.03,472.05 192.42,477.52 190.86,475.65 188.48,475.15" fill="#f39122"/>
<line x1="101.5" y1="570.1" x2="189.5" y2="473.8" stroke="#f39122" stroke-width="1.75" stroke-dasharray="6.5,3.5"/>
<polygon points="191.88,471.19 190.20,476.43 189.04,474.29 186.81,473.33" fill="#f39122"/>
<line x1="153.5" y1="500.4" x2="219.0" y2="500.3" stroke="#f39122" stroke-width="1.75" stroke-dasharray="6.5,3.5"/>
<polygon points="222.50,500.31 217.50,502.61 218.30,500.31 217.50,498.01" fill="#f39122"/>
<line x1="164.8" y1="526.0" x2="219.8" y2="504.3" stroke="#f39122" stroke-width="1.75" stroke-dasharray="6.5,3.5"/>
<polygon points="223.01,502.98 219.21,506.96 219.10,504.53 217.52,502.68" fill="#f39122"/>
<line x1="102.7" y1="571.6" x2="220.4" y2="505.6" stroke="#f39122" stroke-width="1.75" stroke-dasharray="6.5,3.5"/>
<polygon points="223.43,503.87 220.20,508.32 219.77,505.93 217.95,504.31" fill="#f39122"/>
<line x1="97.8" y1="568.5" x2="100.0" y2="530.5" stroke="#f39122" stroke-width="1.75" stroke-dasharray="6.5,3.5"/>
<polygon points="100.16,526.99 102.18,532.11 99.93,531.18 97.59,531.85" fill="#f39122"/>
<line x1="102.3" y1="570.9" x2="151.6" y2="533.9" stroke="#f39122" stroke-width="1.75" stroke-dasharray="6.5,3.5"/>
<polygon points="154.40,531.80 151.78,536.64 151.04,534.32 149.02,532.96" fill="#f39122"/>
<line x1="165.0" y1="529.7" x2="202.2" y2="539.5" stroke="#f39122" stroke-width="1.75" stroke-dasharray="6.5,3.5"/>
<polygon points="205.54,540.35 200.12,541.31 201.48,539.28 201.29,536.86" fill="#f39122"/>
<line x1="103.3" y1="572.9" x2="202.2" y2="545.1" stroke="#f39122" stroke-width="1.75" stroke-dasharray="6.5,3.5"/>
<polygon points="205.57,544.17 201.38,547.74 201.53,545.31 200.14,543.31" fill="#f39122"/>
<line x1="213.0" y1="613.4" x2="212.7" y2="553.0" stroke="#f39122" stroke-width="1.75" stroke-dasharray="6.5,3.5"/>
<polygon points="212.64,549.50 214.96,554.49 212.66,553.70 210.36,554.51" fill="#f39122"/>
<line x1="146.3" y1="506.3" x2="130.3" y2="585.7" stroke="#f39122" stroke-width="1.75" stroke-dasharray="6.5,3.5"/>
<polygon points="129.64,589.14 128.37,583.79 130.47,585.03 132.88,584.70" fill="#f39122"/>
<line x1="163.9" y1="532.0" x2="216.9" y2="575.0" stroke="#f39122" stroke-width="1.75" stroke-dasharray="6.5,3.5"/>
<polygon points="219.64,577.22 214.31,575.86 216.38,574.57 217.21,572.28" fill="#f39122"/>
<line x1="103.5" y1="574.8" x2="214.8" y2="580.5" stroke="#f39122" stroke-width="1.75" stroke-dasharray="6.5,3.5"/>
<polygon points="218.31,580.69 213.20,582.73 214.11,580.48 213.43,578.14" fill="#f39122"/>
<line x1="268.9" y1="560.7" x2="232.9" y2="577.1" stroke="#f39122" stroke-width="1.75" stroke-dasharray="6.5,3.5"/>
<polygon points="229.76,578.52 233.36,574.35 233.58,576.78 235.27,578.54" fill="#f39122"/>
<line x1="306.7" y1="537.3" x2="284.1" y2="552.1" stroke="#f39122" stroke-width="1.75" stroke-dasharray="6.5,3.5"/>
<polygon points="281.16,553.97 284.09,549.31 284.68,551.67 286.60,553.16" fill="#f39122"/>
<line x1="309.1" y1="539.7" x2="274.3" y2="595.0" stroke="#f39122" stroke-width="1.75" stroke-dasharray="6.5,3.5"/>
<polygon points="272.40,597.99 273.12,592.53 274.64,594.43 277.01,594.98" fill="#f39122"/>
<line x1="307.6" y1="612.6" x2="280.6" y2="566.8" stroke="#f39122" stroke-width="1.75" stroke-dasharray="6.5,3.5"/>
<polygon points="278.85,563.83 283.37,566.98 280.98,567.45 279.40,569.31" fill="#f39122"/>
<line x1="264.6" y1="597.1" x2="233.4" y2="510.5" stroke="#f39122" stroke-width="1.75" stroke-dasharray="6.5,3.5"/>
<polygon points="232.27,507.17 236.12,511.10 233.69,511.12 231.79,512.65" fill="#f39122"/>
<line x1="304.8" y1="616.2" x2="279.6" y2="609.0" stroke="#f39122" stroke-width="1.75" stroke-dasharray="6.5,3.5"/>
<polygon points="276.26,608.06 281.70,607.21 280.30,609.20 280.44,611.63" fill="#f39122"/>
<line x1="304.6" y1="618.1" x2="226.5" y2="622.6" stroke="#f39122" stroke-width="1.75" stroke-dasharray="6.5,3.5"/>
<polygon points="222.98,622.83 227.84,620.24 227.18,622.59 228.11,624.84" fill="#f39122"/>
<line x1="269.7" y1="614.3" x2="283.5" y2="671.1" stroke="#f39122" stroke-width="1.75" stroke-dasharray="6.5,3.5"/>
<polygon points="284.28,674.50 280.87,670.19 283.29,670.42 285.34,669.10" fill="#f39122"/>
<line x1="308.4" y1="623.4" x2="289.9" y2="671.5" stroke="#f39122" stroke-width="1.75" stroke-dasharray="6.5,3.5"/>
<polygon points="288.63,674.79 288.28,669.30 290.14,670.87 292.57,670.95" fill="#f39122"/>
<line x1="266.7" y1="658.1" x2="279.2" y2="673.2" stroke="#f39122" stroke-width="1.75" stroke-dasharray="6.5,3.5"/>
<polygon points="281.37,675.96 276.42,673.55 278.71,672.71 279.98,670.63" fill="#f39122"/>
<line x1="204.3" y1="672.2" x2="275.3" y2="680.4" stroke="#f39122" stroke-width="1.75" stroke-dasharray="6.5,3.5"/>
<polygon points="278.75,680.77 273.52,682.48 274.58,680.29 274.04,677.91" fill="#f39122"/>
<line x1="203.1" y1="675.7" x2="241.5" y2="700.8" stroke="#f39122" stroke-width="1.75" stroke-dasharray="6.5,3.5"/>
<polygon points="244.44,702.67 239.00,701.86 240.92,700.38 241.51,698.01" fill="#f39122"/>
<line x1="260.8" y1="659.5" x2="252.6" y2="696.3" stroke="#f39122" stroke-width="1.75" stroke-dasharray="6.5,3.5"/>
<polygon points="251.82,699.67 250.67,694.29 252.74,695.57 255.16,695.29" fill="#f39122"/>
<line x1="185.2" y1="713.1" x2="239.9" y2="707.6" stroke="#f39122" stroke-width="1.75" stroke-dasharray="6.5,3.5"/>
<polygon points="243.34,707.21 238.59,710.00 239.16,707.63 238.13,705.42" fill="#f39122"/>
<line x1="203.7" y1="627.0" x2="160.2" y2="643.7" stroke="#f39122" stroke-width="1.75" stroke-dasharray="6.5,3.5"/>
<polygon points="156.94,644.92 160.78,640.98 160.86,643.41 162.43,645.27" fill="#f39122"/>
<line x1="144.1" y1="639.1" x2="132.0" y2="606.4" stroke="#f39122" stroke-width="1.75" stroke-dasharray="6.5,3.5"/>
<polygon points="130.74,603.14 134.64,607.03 132.21,607.08 130.33,608.63" fill="#f39122"/>
<line x1="203.5" y1="620.4" x2="138.5" y2="599.6" stroke="#f39122" stroke-width="1.75" stroke-dasharray="6.5,3.5"/>
<polygon points="135.15,598.52 140.62,597.85 139.15,599.80 139.22,602.24" fill="#f39122"/>
<line x1="172.1" y1="621.8" x2="191.3" y2="661.0" stroke="#f39122" stroke-width="1.75" stroke-dasharray="6.5,3.5"/>
<polygon points="192.88,664.12 188.61,660.64 191.03,660.34 192.75,658.61" fill="#f39122"/>
<line x1="133.1" y1="601.7" x2="188.7" y2="662.8" stroke="#f39122" stroke-width="1.75" stroke-dasharray="6.5,3.5"/>
<polygon points="191.02,665.38 185.95,663.23 188.19,662.27 189.36,660.13" fill="#f39122"/>
<line x1="209.7" y1="632.8" x2="200.2" y2="660.4" stroke="#f39122" stroke-width="1.75" stroke-dasharray="6.5,3.5"/>
<polygon points="199.02,663.74 198.48,658.26 200.39,659.77 202.83,659.77" fill="#f39122"/>
<line x1="203.8" y1="619.5" x2="106.2" y2="578.2" stroke="#f39122" stroke-width="1.75" stroke-dasharray="6.5,3.5"/>
<polygon points="103.03,576.84 108.53,576.67 106.89,578.48 106.73,580.91" fill="#f39122"/>
<line x1="122.2" y1="592.1" x2="105.2" y2="580.0" stroke="#f39122" stroke-width="1.75" stroke-dasharray="6.5,3.5"/>
<polygon points="102.39,577.97 107.80,578.99 105.82,580.41 105.14,582.74" fill="#f39122"/>
<line x1="160.7" y1="534.0" x2="193.5" y2="660.2" stroke="#f39122" stroke-width="1.75" stroke-dasharray="6.5,3.5"/>
<polygon points="194.39,663.56 190.90,659.30 193.33,659.49 195.36,658.14" fill="#f39122"/>
<line x1="159.9" y1="534.2" x2="168.4" y2="607.0" stroke="#f39122" stroke-width="1.75" stroke-dasharray="6.5,3.5"/>
<polygon points="168.80,610.44 165.94,605.74 168.32,606.27 170.51,605.21" fill="#f39122"/>
<line x1="106.5" y1="521.7" x2="149.8" y2="527.0" stroke="#f39122" stroke-width="1.75" stroke-dasharray="6.5,3.5"/>
<polygon points="153.24,527.47 148.00,529.14 149.08,526.96 148.56,524.58" fill="#f39122"/>
<line x1="305.6" y1="613.3" x2="280.4" y2="606.1" stroke="#f39122" stroke-width="1.75" stroke-dasharray="6.5,3.5"/>
<polygon points="277.08,605.17 282.52,604.32 281.12,606.32 281.26,608.75" fill="#f39122"/>
<line x1="130.5" y1="604.1" x2="186.1" y2="665.1" stroke="#f39122" stroke-width="1.75" stroke-dasharray="6.5,3.5"/>
<polygon points="188.43,667.74 183.36,665.58 185.60,664.63 186.77,662.49" fill="#f39122"/>
<line x1="202.6" y1="623.2" x2="137.6" y2="602.4" stroke="#f39122" stroke-width="1.75" stroke-dasharray="6.5,3.5"/>
<polygon points="134.24,601.38 139.70,600.71 138.24,602.66 138.30,605.09" fill="#f39122"/>
<line x1="154.1" y1="525.1" x2="83.0" y2="482.0" stroke="#f39122" stroke-width="1.75" stroke-dasharray="6.5,3.5"/>
<polygon points="80.04,480.19 85.51,480.81 83.63,482.36 83.12,484.75" fill="#f39122"/>
<line x1="215.6" y1="613.7" x2="221.9" y2="590.2" stroke="#f39122" stroke-width="1.5"/>
<polygon points="222.75,586.80 223.69,592.22 221.67,590.86 219.24,591.04" fill="#f39122"/>
<line x1="259.8" y1="601.2" x2="232.6" y2="585.7" stroke="#f39122" stroke-width="1.5"/>
<polygon points="229.52,583.96 235.00,584.43 233.17,586.04 232.73,588.43" fill="#f39122"/>
<line x1="274.2" y1="564.7" x2="269.6" y2="593.3" stroke="#f39122" stroke-width="1.5"/>
<polygon points="269.03,596.71 267.56,591.41 269.70,592.57 272.10,592.14" fill="#f39122"/>
<line x1="266.6" y1="614.5" x2="263.5" y2="642.3" stroke="#f39122" stroke-width="1.5"/>
<polygon points="263.08,645.74 261.36,640.52 263.55,641.57 265.93,641.03" fill="#f39122"/>
<line x1="221.6" y1="628.5" x2="253.3" y2="647.3" stroke="#f39122" stroke-width="1.5"/>
<polygon points="256.28,649.12 250.81,648.55 252.67,646.98 253.16,644.59" fill="#f39122"/>
<line x1="268.0" y1="648.6" x2="302.9" y2="623.4" stroke="#f39122" stroke-width="1.5"/>
<polygon points="305.74,621.31 303.03,626.11 302.33,623.77 300.34,622.38" fill="#f39122"/>
<line x1="255.6" y1="654.6" x2="207.5" y2="668.2" stroke="#f39122" stroke-width="1.5"/>
<polygon points="204.10,669.13 208.29,665.56 208.14,667.99 209.54,669.98" fill="#f39122"/>
<line x1="261.0" y1="611.7" x2="204.9" y2="663.5" stroke="#f39122" stroke-width="1.5"/>
<polygon points="202.28,665.87 204.39,660.79 205.37,663.03 207.51,664.17" fill="#f39122"/>
<line x1="271.3" y1="563.5" x2="203.0" y2="661.9" stroke="#f39122" stroke-width="1.5"/>
<polygon points="200.97,664.73 201.93,659.31 203.36,661.28 205.71,661.94" fill="#f39122"/>
<line x1="219.9" y1="616.1" x2="268.1" y2="565.4" stroke="#f39122" stroke-width="1.5"/>
<polygon points="270.48,562.88 268.70,568.09 267.59,565.92 265.37,564.92" fill="#f39122"/>
<line x1="170.2" y1="622.4" x2="179.1" y2="703.7" stroke="#1a78ff" stroke-width="1.4" stroke-dasharray="4,2.5"/>
<polygon points="179.49,707.14 176.66,702.42 179.03,702.96 181.23,701.92" fill="#1a78ff"/>
<line x1="193.5" y1="678.8" x2="182.9" y2="706.6" stroke="#1a78ff" stroke-width="1.4"/>
<line x1="180.1" y1="705.5" x2="185.7" y2="707.7" stroke="#1a78ff" stroke-width="1.4"/>
<polygon points="157.2,419.4 168.5,419.4 166.2,425.0 168.5,430.6 157.2,430.6 159.4,425.0" fill="#fff" stroke="#9a9a9a" stroke-width="0.9"/>
<polygon points="239.8,434.6 245.8,434.6 250.1,438.9 250.1,444.9 245.8,449.2 239.8,449.2 235.5,444.9 235.5,438.9" fill="#f0871a" stroke="#c9731c" stroke-width="0.6"/>
<polygon points="193.8,458.5 199.8,458.5 204.1,462.8 204.1,468.8 199.8,473.1 193.8,473.1 189.5,468.8 189.5,462.8" fill="#f0871a" stroke="#c9731c" stroke-width="0.6"/>
<polygon points="272.6,475.3 278.6,475.3 282.9,479.6 282.9,485.6 278.6,489.9 272.6,489.9 268.3,485.6 268.3,479.6" fill="#f0871a" stroke="#c9731c" stroke-width="0.6"/>
<polygon points="70.8,469.1 76.8,469.1 81.1,473.4 81.1,479.4 76.8,483.7 70.8,483.7 66.5,479.4 66.5,473.4" fill="#f0871a" stroke="#c9731c" stroke-width="0.6"/>
<rect x="142.2" y="495.3" width="10.6" height="10.2" fill="#f0871a" stroke="#c9731c" stroke-width="0.6"/>
<polygon points="226.8,493.0 232.8,493.0 237.1,497.3 237.1,503.3 232.8,507.6 226.8,507.6 222.5,503.3 222.5,497.3" fill="#f0871a" stroke="#c9731c" stroke-width="0.6"/>
<polygon points="95.5,515.8 105.5,515.8 102.7,521.0 105.5,526.2 95.5,526.2 98.3,521.0" fill="#f0871a" stroke="#c9731c" stroke-width="0.6"/>
<rect x="153.4" y="523.4" width="11.5" height="9.6" fill="#f0871a" stroke="#c9731c" stroke-width="0.6"/>
<rect x="308.0" y="521.3" width="10.8" height="23.2" fill="#9ccdf8" stroke="#7fb3e6" stroke-width="0.6"/>
<polygon points="209.6,534.9 215.6,534.9 219.9,539.2 219.9,545.2 215.6,549.5 209.6,549.5 205.3,545.2 205.3,539.2" fill="#f0871a" stroke="#c9731c" stroke-width="0.6"/>
<ellipse cx="275.3" cy="557.8" rx="11.6" ry="5.1" fill="#f0871a" stroke="#c9731c" stroke-width="0.6"/>
<rect x="92.2" y="569.4" width="10.5" height="10.2" fill="#f0871a" stroke="#c9731c" stroke-width="0.6"/>
<polygon points="219.1,576.2 229.5,576.2 226.6,581.0 229.5,585.8 219.1,585.8 222.0,581.0" fill="#f0871a" stroke="#c9731c" stroke-width="0.6"/>
<polygon points="125.2,589.0 131.2,589.0 135.5,593.3 135.5,599.3 131.2,603.6 125.2,603.6 120.9,599.3 120.9,593.3" fill="#f0871a" stroke="#c9731c" stroke-width="0.6"/>
<polygon points="267.6,594.6 271.2,605.6 267.6,616.6 264.0,605.6" fill="#f0871a" stroke="#c9731c" stroke-width="0.6"/>
<rect x="164.0" y="611.9" width="11" height="9" fill="#9ccdf8" stroke="#7fb3e6" stroke-width="0.6"/>
<ellipse cx="213.0" cy="623.4" rx="5.1" ry="11.8" fill="#f0871a" stroke="#c9731c" stroke-width="0.6"/>
<rect x="304.9" y="612.6" width="11.4" height="10.4" fill="#f0871a" stroke="#c9731c" stroke-width="0.6"/>
<ellipse cx="147.6" cy="648.5" rx="5.0" ry="11.5" fill="#f0871a" stroke="#c9731c" stroke-width="0.6"/>
<ellipse cx="262.3" cy="652.7" rx="11.3" ry="5.1" fill="#f0871a" stroke="#c9731c" stroke-width="0.6"/>
<ellipse cx="196.4" cy="671.3" rx="13.5" ry="5.3" fill="#f0871a" stroke="#c9731c" stroke-width="0.6"/>
<polygon points="105.7,664.5 111.7,664.5 116.0,668.8 116.0,674.8 111.7,679.1 105.7,679.1 101.4,674.8 101.4,668.8" fill="#f0871a" stroke="#c9731c" stroke-width="0.6"/>
<polygon points="283.0,674.3 289.0,674.3 293.3,678.6 293.3,684.6 289.0,688.9 283.0,688.9 278.7,684.6 278.7,678.6" fill="#f0871a" stroke="#c9731c" stroke-width="0.6"/>
<ellipse cx="147.7" cy="700.5" rx="4.9" ry="4.9" fill="#f0871a" stroke="#c9731c" stroke-width="0.6"/>
<rect x="247.5" y="699.4" width="5.6" height="14.2" fill="#f0871a" stroke="#c9731c" stroke-width="0.6"/>
<ellipse cx="180.2" cy="713.6" rx="5.2" ry="5.2" fill="#9ccdf8" stroke="#7fb3e6" stroke-width="0.6"/>
<polygon points="105.3,711.5 115.7,711.5 110.5,721.7" fill="#f0871a" stroke="#c9731c" stroke-width="0.6"/>
<text x="44.6" y="428.3" font-size="8.68" fill="#000" stroke="#000" stroke-width="0.22" transform="matrix(1,0,0,1.03,0,-12.849)">Airway Pathology in Chronic Obstructive Pulmonary Disease</text>
<text x="173.2" y="445.0" font-size="8.68" fill="#000" stroke="#000" stroke-width="0.22" transform="matrix(1,0,0,1.03,0,-13.350)">Induction of antigen presenting cells</text>
<text x="150.2" y="468.8" font-size="8.68" fill="#000" stroke="#000" stroke-width="0.22" transform="matrix(1,0,0,1.03,0,-14.064)">Activation of monocytes</text>
<text x="225.0" y="485.4" font-size="8.68" fill="#000" stroke="#000" stroke-width="0.22" transform="matrix(1,0,0,1.03,0,-14.562)">Induction of dendritic cells</text>
<text x="1.4" y="479.7" font-size="8.68" fill="#000" stroke="#000" stroke-width="0.22" transform="matrix(1,0,0,1.03,0,-14.391)">Quantity of regulatory T lymphocytes</text>
<text x="141.9" y="503.3" font-size="8.68" fill="#000" stroke="#000" stroke-width="0.22" transform="matrix(1,0,0,1.03,0,-15.099)">IL7</text>
<text x="179.4" y="502.6" font-size="8.68" fill="#000" stroke="#000" stroke-width="0.22" transform="matrix(1,0,0,1.03,0,-15.078)">Quantity of T lymphocytes</text>
<text x="71.4" y="523.8" font-size="8.68" fill="#000" stroke="#000" stroke-width="0.22" transform="matrix(1,0,0,1.03,0,-15.714)">IL-17 Signaling</text>
<text x="153.0" y="530.9" font-size="8.68" fill="#000" stroke="#000" stroke-width="0.22" transform="matrix(1,0,0,1.03,0,-15.927)">IL2</text>
<text x="295.0" y="535.0" font-size="8.68" fill="#000" stroke="#000" stroke-width="0.22" transform="matrix(1,0,0,1.03,0,-16.050)">PTGER4</text>
<text x="160.4" y="545.3" font-size="8.68" fill="#000" stroke="#000" stroke-width="0.22" transform="matrix(1,0,0,1.03,0,-16.359)">Activation of dendritic cells</text>
<text x="265.0" y="560.8" font-size="8.68" fill="#000" stroke="#000" stroke-width="0.22" transform="matrix(1,0,0,1.03,0,-16.824)">IRF7</text>
<text x="80.0" y="577.5" font-size="8.68" fill="#000" stroke="#000" stroke-width="0.22" transform="matrix(1,0,0,1.03,0,-17.325)">CD40LG</text>
<text x="120.8" y="584.3" font-size="8.68" fill="#000" stroke="#000" stroke-width="0.22" transform="matrix(1,0,0,1.03,0,-17.529)">Pathogen Induced Cytokine Storm Signaling Pathway</text>
<text x="71.4" y="598.6" font-size="8.68" fill="#000" stroke="#000" stroke-width="0.22" transform="matrix(1,0,0,1.03,0,-17.958)">Hematopoiesis of phagocytes</text>
<text x="259.1" y="608.6" font-size="8.68" fill="#000" stroke="#000" stroke-width="0.22" transform="matrix(1,0,0,1.03,0,-18.258)">RIGI</text>
<text x="161.3" y="619.4" font-size="8.68" fill="#000" stroke="#000" stroke-width="0.22" transform="matrix(1,0,0,1.03,0,-18.582)">IL10</text>
<text x="202.2" y="626.7" font-size="8.68" fill="#000" stroke="#000" stroke-width="0.22" transform="matrix(1,0,0,1.03,0,-18.801)">TLR4</text>
<text x="298.4" y="620.9" font-size="8.68" fill="#000" stroke="#000" stroke-width="0.22" transform="matrix(1,0,0,1.03,0,-18.627)">IFNA2</text>
<text x="135.1" y="651.5" font-size="8.68" fill="#000" stroke="#000" stroke-width="0.22" transform="matrix(1,0,0,1.03,0,-19.545)">AGER</text>
<text x="252.0" y="655.9" font-size="8.68" fill="#000" stroke="#000" stroke-width="0.22" transform="matrix(1,0,0,1.03,0,-19.677)">IRF3</text>
<text x="183.2" y="674.2" font-size="8.68" fill="#000" stroke="#000" stroke-width="0.22" transform="matrix(1,0,0,1.03,0,-20.226)">STAT1</text>
<text x="49.8" y="675.1" font-size="8.68" fill="#000" stroke="#000" stroke-width="0.22" transform="matrix(1,0,0,1.03,0,-20.253)">Development of macrophages</text>
<text x="235.9" y="684.5" font-size="8.68" fill="#000" stroke="#000" stroke-width="0.22" transform="matrix(1,0,0,1.03,0,-20.535)">Maturation of phagocytes</text>
<text x="123.4" y="703.6" font-size="8.68" fill="#000" stroke="#000" stroke-width="0.22" transform="matrix(1,0,0,1.03,0,-21.108)">ARHGAP21</text>
<text x="200.7" y="710.0" font-size="8.68" fill="#000" stroke="#000" stroke-width="0.22" transform="matrix(1,0,0,1.03,0,-21.300)">Apoptosis of hepatocytes</text>
<text x="164.2" y="716.6" font-size="8.68" fill="#000" stroke="#000" stroke-width="0.22" transform="matrix(1,0,0,1.03,0,-21.498)">BCL2L1</text>
<text x="94.9" y="720.3" font-size="8.68" fill="#000" stroke="#000" stroke-width="0.22" transform="matrix(1,0,0,1.03,0,-21.609)">MARK2</text>
<text x="351.2" y="405.7" font-size="21.5" fill="#000" stroke="#000" stroke-width="0.22" transform="matrix(1,0,0,1.03,0,-12.171)">c</text>
<text x="488.4" y="407.0" font-size="15.8" fill="#000" stroke="#000" stroke-width="0.22" transform="matrix(1,0,0,1.03,0,-12.210)">Week 13</text>
<rect x="378.9" y="424.7" width="95.60000000000002" height="15.699999999999989" fill="#fff" stroke="#333" stroke-width="1"/>
<rect x="351.0" y="706.9" width="226.89999999999998" height="16.300000000000068" fill="#fff" stroke="#333" stroke-width="1"/>
<line x1="433.4" y1="434.0" x2="485.1" y2="448.5" stroke="#7a7a7a" stroke-width="0.9"/>
<line x1="496.1" y1="445.8" x2="510.8" y2="431.6" stroke="#7a7a7a" stroke-width="0.9"/>
<line x1="524.6" y1="425.2" x2="555.9" y2="421.9" stroke="#7a7a7a" stroke-width="0.9"/>
<line x1="512.8" y1="474.8" x2="416.1" y2="512.2" stroke="#7a7a7a" stroke-width="1.0" stroke-dasharray="3.5,2"/>
<line x1="521.1" y1="477.3" x2="548.8" y2="515.5" stroke="#7a7a7a" stroke-width="1.0" stroke-dasharray="3.5,2"/>
<line x1="517.3" y1="478.3" x2="509.3" y2="554.1" stroke="#7a7a7a" stroke-width="1.0" stroke-dasharray="3.5,2"/>
<line x1="515.6" y1="478.2" x2="508.4" y2="593.6" stroke="#7a7a7a" stroke-width="1.0" stroke-dasharray="3.5,2"/>
<line x1="518.6" y1="658.1" x2="506.4" y2="672.7" stroke="#7a7a7a" stroke-width="0.9"/>
<line x1="470" y1="478" x2="486" y2="460" stroke="#8a8a8a" stroke-width="0.9"/>
<polygon points="487.50,458.30 486.01,462.99 484.91,461.21 483.02,460.33" fill="#8a8a8a"/>
<line x1="411.3" y1="508.1" x2="424.1" y2="442.8" stroke="#f39122" stroke-width="1.75" stroke-dasharray="6.5,3.5"/>
<polygon points="424.75,439.36 426.05,444.71 423.95,443.48 421.53,443.82" fill="#f39122"/>
<line x1="554.8" y1="514.5" x2="570.6" y2="459.5" stroke="#f39122" stroke-width="1.75" stroke-dasharray="6.5,3.5"/>
<polygon points="571.59,456.09 572.42,461.53 570.43,460.13 568.00,460.26" fill="#f39122"/>
<line x1="416.5" y1="514.5" x2="497.9" y2="513.9" stroke="#f39122" stroke-width="1.75" stroke-dasharray="6.5,3.5"/>
<polygon points="501.40,513.84 496.42,516.18 497.20,513.87 496.38,511.58" fill="#f39122"/>
<line x1="416.5" y1="514.8" x2="542.4" y2="520.7" stroke="#f39122" stroke-width="1.75" stroke-dasharray="6.5,3.5"/>
<polygon points="545.91,520.87 540.81,522.94 541.71,520.68 541.02,518.34" fill="#f39122"/>
<line x1="414.9" y1="518.8" x2="435.2" y2="536.5" stroke="#f39122" stroke-width="1.75" stroke-dasharray="6.5,3.5"/>
<polygon points="437.85,538.81 432.57,537.25 434.68,536.04 435.59,533.78" fill="#f39122"/>
<line x1="415.9" y1="517.3" x2="499.5" y2="556.4" stroke="#f39122" stroke-width="1.75" stroke-dasharray="6.5,3.5"/>
<polygon points="502.71,557.85 497.21,557.81 498.91,556.07 499.16,553.65" fill="#f39122"/>
<line x1="546.0" y1="522.6" x2="455.0" y2="541.7" stroke="#f39122" stroke-width="1.75" stroke-dasharray="6.5,3.5"/>
<polygon points="451.53,542.38 455.96,539.11 455.64,541.52 456.90,543.61" fill="#f39122"/>
<line x1="502.3" y1="559.0" x2="454.8" y2="546.8" stroke="#f39122" stroke-width="1.75" stroke-dasharray="6.5,3.5"/>
<polygon points="451.45,545.96 456.87,544.97 455.52,547.00 455.73,549.43" fill="#f39122"/>
<line x1="513.5" y1="556.3" x2="545.1" y2="528.2" stroke="#f39122" stroke-width="1.75" stroke-dasharray="6.5,3.5"/>
<polygon points="547.67,525.85 545.46,530.89 544.53,528.64 542.40,527.46" fill="#f39122"/>
<line x1="512.9" y1="594.4" x2="547.9" y2="530.4" stroke="#f39122" stroke-width="1.75" stroke-dasharray="6.5,3.5"/>
<polygon points="549.54,527.34 549.16,532.83 547.53,531.03 545.13,530.63" fill="#f39122"/>
<line x1="559.6" y1="523.2" x2="614.3" y2="539.3" stroke="#f39122" stroke-width="1.75" stroke-dasharray="6.5,3.5"/>
<polygon points="617.71,540.28 612.26,541.08 613.68,539.10 613.56,536.66" fill="#f39122"/>
<line x1="556.3" y1="527.3" x2="572.1" y2="555.5" stroke="#f39122" stroke-width="1.75" stroke-dasharray="6.5,3.5"/>
<polygon points="573.83,558.56 569.38,555.32 571.78,554.89 573.40,553.07" fill="#f39122"/>
<line x1="411.3" y1="520.9" x2="422.5" y2="576.0" stroke="#f39122" stroke-width="1.75" stroke-dasharray="6.5,3.5"/>
<polygon points="423.21,579.45 419.96,575.01 422.37,575.33 424.46,574.09" fill="#f39122"/>
<line x1="424.8" y1="594.3" x2="425.2" y2="631.2" stroke="#f39122" stroke-width="1.75" stroke-dasharray="6.5,3.5"/>
<polygon points="425.22,634.70 422.86,629.73 425.17,630.50 427.46,629.68" fill="#f39122"/>
<line x1="504.1" y1="598.8" x2="435.6" y2="588.4" stroke="#f39122" stroke-width="1.75" stroke-dasharray="6.5,3.5"/>
<polygon points="432.12,587.92 437.40,586.39 436.27,588.55 436.72,590.94" fill="#f39122"/>
<line x1="504.6" y1="602.4" x2="435.1" y2="637.3" stroke="#f39122" stroke-width="1.75" stroke-dasharray="6.5,3.5"/>
<polygon points="432.00,638.84 435.44,634.54 435.76,636.95 437.50,638.65" fill="#f39122"/>
<line x1="511.5" y1="605.5" x2="520.7" y2="641.7" stroke="#f39122" stroke-width="1.75" stroke-dasharray="6.5,3.5"/>
<polygon points="521.55,645.13 518.09,640.85 520.52,641.06 522.55,639.72" fill="#f39122"/>
<line x1="509.6" y1="567.0" x2="521.6" y2="641.5" stroke="#f39122" stroke-width="1.75" stroke-dasharray="6.5,3.5"/>
<polygon points="522.21,645.00 519.14,640.43 521.54,640.85 523.68,639.69" fill="#f39122"/>
<line x1="515.3" y1="597.0" x2="567.7" y2="570.1" stroke="#f39122" stroke-width="1.75" stroke-dasharray="6.5,3.5"/>
<polygon points="570.83,568.52 567.43,572.85 567.09,570.44 565.33,568.76" fill="#f39122"/>
<line x1="516.0" y1="600.4" x2="591.7" y2="609.5" stroke="#f39122" stroke-width="1.75" stroke-dasharray="6.5,3.5"/>
<polygon points="595.15,609.91 589.92,611.60 590.98,609.41 590.46,607.03" fill="#f39122"/>
<line x1="581.1" y1="571.7" x2="597.3" y2="601.2" stroke="#f39122" stroke-width="1.75" stroke-dasharray="6.5,3.5"/>
<polygon points="598.99,604.23 594.57,600.95 596.97,600.54 598.60,598.74" fill="#f39122"/>
<line x1="584.3" y1="561.9" x2="615.0" y2="547.2" stroke="#f39122" stroke-width="1.75" stroke-dasharray="6.5,3.5"/>
<polygon points="618.14,545.64 614.62,549.87 614.35,547.45 612.63,545.72" fill="#f39122"/>
<line x1="514.3" y1="563.7" x2="592.9" y2="605.6" stroke="#f39122" stroke-width="1.75" stroke-dasharray="6.5,3.5"/>
<polygon points="595.98,607.27 590.49,606.94 592.28,605.29 592.66,602.88" fill="#f39122"/>
<line x1="515.6" y1="601.8" x2="602.2" y2="633.4" stroke="#f39122" stroke-width="1.75" stroke-dasharray="6.5,3.5"/>
<polygon points="605.46,634.62 599.97,635.07 601.51,633.18 601.55,630.75" fill="#f39122"/>
<line x1="513.0" y1="604.9" x2="558.3" y2="683.3" stroke="#f39122" stroke-width="1.75" stroke-dasharray="6.5,3.5"/>
<polygon points="560.05,686.31 555.55,683.13 557.95,682.67 559.54,680.83" fill="#f39122"/>
<line x1="509.4" y1="605.7" x2="502.8" y2="667.5" stroke="#f39122" stroke-width="1.75" stroke-dasharray="6.5,3.5"/>
<polygon points="502.40,670.94 500.64,665.73 502.84,666.77 505.21,666.21" fill="#f39122"/>
<line x1="507.8" y1="605.3" x2="469.1" y2="703.2" stroke="#f39122" stroke-width="1.75" stroke-dasharray="6.5,3.5"/>
<polygon points="467.77,706.49 467.47,700.99 469.32,702.58 471.75,702.69" fill="#f39122"/>
<line x1="411.7" y1="520.8" x2="462.4" y2="702.9" stroke="#f39122" stroke-width="1.75" stroke-dasharray="6.5,3.5"/>
<polygon points="463.32,706.26 459.77,702.05 462.20,702.21 464.20,700.82" fill="#f39122"/>
<line x1="506.8" y1="566.9" x2="468.1" y2="702.9" stroke="#f39122" stroke-width="1.75" stroke-dasharray="6.5,3.5"/>
<polygon points="467.12,706.27 466.27,700.83 468.27,702.23 470.70,702.09" fill="#f39122"/>
<line x1="413.2" y1="520.2" x2="496.2" y2="668.8" stroke="#f39122" stroke-width="1.75" stroke-dasharray="6.5,3.5"/>
<polygon points="497.94,671.85 493.49,668.61 495.89,668.19 497.51,666.37" fill="#f39122"/>
<line x1="550.7" y1="527.9" x2="505.0" y2="667.9" stroke="#f39122" stroke-width="1.75" stroke-dasharray="6.5,3.5"/>
<polygon points="503.93,671.27 503.29,665.80 505.23,667.28 507.66,667.23" fill="#f39122"/>
<line x1="551.4" y1="528.0" x2="525.8" y2="641.7" stroke="#f39122" stroke-width="1.75" stroke-dasharray="6.5,3.5"/>
<polygon points="525.05,645.08 523.90,639.70 525.97,640.98 528.39,640.71" fill="#f39122"/>
<line x1="509.8" y1="593.7" x2="509.0" y2="570.6" stroke="#f39122" stroke-width="1.75" stroke-dasharray="6.5,3.5"/>
<polygon points="508.83,567.10 511.31,572.01 508.98,571.29 506.71,572.17" fill="#f39122"/>
<line x1="505.4" y1="595.8" x2="452.5" y2="551.3" stroke="#f39122" stroke-width="1.75" stroke-dasharray="6.5,3.5"/>
<polygon points="449.84,549.09 455.15,550.55 453.06,551.79 452.19,554.07" fill="#f39122"/>
<line x1="416.6" y1="511.8" x2="542.6" y2="517.7" stroke="#f39122" stroke-width="1.75" stroke-dasharray="6.5,3.5"/>
<polygon points="546.05,517.88 540.95,519.94 541.85,517.68 541.16,515.34" fill="#f39122"/>
<line x1="408.4" y1="521.5" x2="419.6" y2="576.6" stroke="#f39122" stroke-width="1.75" stroke-dasharray="6.5,3.5"/>
<polygon points="420.27,580.05 417.02,575.61 419.43,575.93 421.52,574.69" fill="#f39122"/>
<line x1="512.8" y1="593.6" x2="512.0" y2="570.5" stroke="#f39122" stroke-width="1.75" stroke-dasharray="6.5,3.5"/>
<polygon points="511.83,566.99 514.31,571.90 511.98,571.19 509.71,572.07" fill="#f39122"/>
<line x1="508.6" y1="606.3" x2="517.8" y2="642.5" stroke="#f39122" stroke-width="1.75" stroke-dasharray="6.5,3.5"/>
<polygon points="518.64,645.87 515.18,641.59 517.61,641.80 519.64,640.46" fill="#f39122"/>
<line x1="455.3" y1="488.5" x2="418.7" y2="509.5" stroke="#f39122" stroke-width="1.5"/>
<polygon points="415.64,511.26 418.83,506.78 419.28,509.17 421.12,510.77" fill="#f39122"/>
<line x1="467.9" y1="487.6" x2="543.1" y2="517.3" stroke="#f39122" stroke-width="1.5"/>
<polygon points="546.39,518.62 540.90,518.92 542.49,517.08 542.59,514.65" fill="#f39122"/>
<line x1="465.1" y1="490.9" x2="503.3" y2="552.1" stroke="#f39122" stroke-width="1.5"/>
<polygon points="505.16,555.09 500.56,552.06 502.93,551.52 504.46,549.63" fill="#f39122"/>
<line x1="464.1" y1="491.4" x2="506.3" y2="591.0" stroke="#f39122" stroke-width="1.5"/>
<polygon points="507.66,594.18 503.59,590.47 506.02,590.31 507.83,588.67" fill="#f39122"/>
<line x1="618.5" y1="489.4" x2="562.3" y2="516.6" stroke="#f39122" stroke-width="1.5"/>
<polygon points="559.20,518.14 562.69,513.89 562.98,516.31 564.70,518.03" fill="#f39122"/>
<line x1="508.4" y1="554.1" x2="507.6" y2="523.3" stroke="#f39122" stroke-width="1.5"/>
<polygon points="507.55,519.80 509.98,524.74 507.66,524.00 505.38,524.86" fill="#f39122"/>
<line x1="508.8" y1="567.1" x2="509.7" y2="590.2" stroke="#f39122" stroke-width="1.5"/>
<polygon points="509.79,593.70 507.31,588.79 509.64,589.51 511.90,588.62" fill="#f39122"/>
<line x1="512.9" y1="594.4" x2="547.9" y2="530.4" stroke="#f39122" stroke-width="1.5"/>
<polygon points="549.54,527.34 549.16,532.83 547.53,531.03 545.13,530.63" fill="#f39122"/>
<polygon points="512.1,467.4 523.7,467.4 521.4,472.8 523.7,478.2 512.1,478.2 514.4,472.8" fill="#fff" stroke="#9a9a9a" stroke-width="0.9"/>
<polygon points="423.1,424.5 429.3,424.5 433.7,428.9 433.7,435.1 429.3,439.5 423.1,439.5 418.7,435.1 418.7,428.9" fill="#f0871a" stroke="#c9731c" stroke-width="0.6"/>
<rect x="485.8" y="444.4" width="11.3" height="11.8" fill="#f0871a" stroke="#c9731c" stroke-width="0.6"/>
<polygon points="516.6,413.8 521.9,426.1 516.6,438.4 511.4,426.1" fill="#9ccdf8" stroke="#7fb3e6" stroke-width="0.6"/>
<ellipse cx="561.4" cy="421.3" rx="5.5" ry="5.5" fill="#f0871a" stroke="#c9731c" stroke-width="0.6"/>
<polygon points="570.7,440.9 576.9,440.9 581.3,445.3 581.3,451.5 576.9,455.9 570.7,455.9 566.3,451.5 566.3,445.3" fill="#f0871a" stroke="#c9731c" stroke-width="0.6"/>
<ellipse cx="461.4" cy="485.0" rx="11.15" ry="4.7" fill="#f0871a" stroke="#c9731c" stroke-width="0.6"/>
<ellipse cx="624.8" cy="486.3" rx="10.5" ry="4.8" fill="#f0871a" stroke="#c9731c" stroke-width="0.6"/>
<rect x="403.8" y="509.7" width="12.4" height="9.6" fill="#f0871a" stroke="#c9731c" stroke-width="0.6"/>
<polygon points="502.1,508.0 512.7,508.0 509.7,513.8 512.7,519.6 502.1,519.6 505.1,513.8" fill="#f0871a" stroke="#c9731c" stroke-width="0.6"/>
<rect x="546.4" y="516.2" width="13" height="10" fill="#f0871a" stroke="#c9731c" stroke-width="0.6"/>
<polygon points="440.5,536.1 447.1,536.1 451.7,540.7 451.7,547.3 447.1,551.9 440.5,551.9 435.9,547.3 435.9,540.7" fill="#f0871a" stroke="#c9731c" stroke-width="0.6"/>
<polygon points="621.8,534.9 628.0,534.9 632.4,539.3 632.4,545.5 628.0,549.9 621.8,549.9 617.4,545.5 617.4,539.3" fill="#f0871a" stroke="#c9731c" stroke-width="0.6"/>
<rect x="502.5" y="555.8" width="12.2" height="9.7" fill="#f0871a" stroke="#c9731c" stroke-width="0.6"/>
<polygon points="574.4,557.6 580.6,557.6 585.0,562.0 585.0,568.2 580.6,572.6 574.4,572.6 570.0,568.2 570.0,562.0" fill="#f0871a" stroke="#c9731c" stroke-width="0.6"/>
<polygon points="421.6,579.3 427.8,579.3 432.2,583.7 432.2,589.9 427.8,594.3 421.6,594.3 417.2,589.9 417.2,583.7" fill="#f0871a" stroke="#c9731c" stroke-width="0.6"/>
<rect x="505.2" y="594.4" width="9.6" height="10.6" fill="#f0871a" stroke="#c9731c" stroke-width="0.6"/>
<polygon points="599.5,603.3 605.7,603.3 610.1,607.7 610.1,613.9 605.7,618.3 599.5,618.3 595.1,613.9 595.1,607.7" fill="#f0871a" stroke="#c9731c" stroke-width="0.6"/>
<polygon points="609.4,629.7 615.6,629.7 620.0,634.1 620.0,640.3 615.6,644.7 609.4,644.7 605.0,640.3 605.0,634.1" fill="#f0871a" stroke="#c9731c" stroke-width="0.6"/>
<polygon points="422.2,634.7 428.4,634.7 432.8,639.1 432.8,645.3 428.4,649.7 422.2,649.7 417.8,645.3 417.8,639.1" fill="#f0871a" stroke="#c9731c" stroke-width="0.6"/>
<polygon points="520.3,644.9 526.5,644.9 530.9,649.3 530.9,655.5 526.5,659.9 520.3,659.9 515.9,655.5 515.9,649.3" fill="#f0871a" stroke="#c9731c" stroke-width="0.6"/>
<polygon points="498.5,670.9 504.7,670.9 509.1,675.3 509.1,681.5 504.7,685.9 498.5,685.9 494.1,681.5 494.1,675.3" fill="#f0871a" stroke="#c9731c" stroke-width="0.6"/>
<polygon points="560.7,685.3 566.9,685.3 571.3,689.7 571.3,695.9 566.9,700.3 560.7,700.3 556.3,695.9 556.3,689.7" fill="#f0871a" stroke="#c9731c" stroke-width="0.6"/>
<polygon points="459.6,706.7 470.8,706.7 467.7,713.0 470.8,719.3 459.6,719.3 462.7,713.0" fill="#f0871a" stroke="#c9731c" stroke-width="0.6"/>
<text x="382.8" y="436.0" font-size="9.35" fill="#000" stroke="#000" stroke-width="0.22" transform="matrix(1,0,0,1.03,0,-13.080)">NK cell development</text>
<text x="478.7" y="453.0" font-size="9.35" fill="#000" stroke="#000" stroke-width="0.22" transform="matrix(1,0,0,1.03,0,-13.590)">IFNL1</text>
<text x="500.9" y="429.4" font-size="9.35" fill="#000" stroke="#000" stroke-width="0.22" transform="matrix(1,0,0,1.03,0,-12.882)">TREX1</text>
<text x="541.7" y="424.3" font-size="9.35" fill="#000" stroke="#000" stroke-width="0.22" transform="matrix(1,0,0,1.03,0,-12.729)">ORMDL3</text>
<text x="527.9" y="451.8" font-size="9.35" fill="#000" stroke="#000" stroke-width="0.22" transform="matrix(1,0,0,1.03,0,-13.554)">Homing of tumor cells</text>
<text x="390.6" y="475.8" font-size="9.35" fill="#000" stroke="#000" stroke-width="0.22" transform="matrix(1,0,0,1.03,0,-14.274)">Airway Pathology in Chronic Obstructive Pulmonary Disease</text>
<text x="445.3" y="487.9" font-size="9.35" fill="#000" stroke="#000" stroke-width="0.22" transform="matrix(1,0,0,1.03,0,-14.637)">NFKB1</text>
<text x="608.2" y="489.2" font-size="9.35" fill="#000" stroke="#000" stroke-width="0.22" transform="matrix(1,0,0,1.03,0,-14.676)">CEBPA</text>
<text x="398.5" y="516.8" font-size="9.35" fill="#000" stroke="#000" stroke-width="0.22" transform="matrix(1,0,0,1.03,0,-15.504)">IFNG</text>
<text x="476.0" y="516.6" font-size="9.35" fill="#000" stroke="#000" stroke-width="0.22" transform="matrix(1,0,0,1.03,0,-15.498)">IL-17 Signaling</text>
<text x="544.9" y="524.0" font-size="9.35" fill="#000" stroke="#000" stroke-width="0.22" transform="matrix(1,0,0,1.03,0,-15.720)">IL6</text>
<text x="363.8" y="546.7" font-size="9.35" fill="#000" stroke="#000" stroke-width="0.22" transform="matrix(1,0,0,1.03,0,-16.401)">Interaction of mononuclear leukocytes</text>
<text x="585.8" y="545.0" font-size="9.35" fill="#000" stroke="#000" stroke-width="0.22" transform="matrix(1,0,0,1.03,0,-16.350)">Expansion of cells</text>
<text x="500.2" y="563.2" font-size="9.35" fill="#000" stroke="#000" stroke-width="0.22" transform="matrix(1,0,0,1.03,0,-16.896)">TNF</text>
<text x="524.2" y="568.4" font-size="9.35" fill="#000" stroke="#000" stroke-width="0.22" transform="matrix(1,0,0,1.03,0,-17.052)">Polarization of blood cells</text>
<text x="369.6" y="590.4" font-size="9.35" fill="#000" stroke="#000" stroke-width="0.22" transform="matrix(1,0,0,1.03,0,-17.712)">Interaction of lymphocytes</text>
<text x="502.1" y="602.8" font-size="9.35" fill="#000" stroke="#000" stroke-width="0.22" transform="matrix(1,0,0,1.03,0,-18.084)">IL1B</text>
<text x="529.1" y="613.5" font-size="9.35" fill="#000" stroke="#000" stroke-width="0.22" transform="matrix(1,0,0,1.03,0,-18.405)">Binding of mononuclear leukocytes</text>
<text x="539.3" y="641.0" font-size="9.35" fill="#000" stroke="#000" stroke-width="0.22" transform="matrix(1,0,0,1.03,0,-19.230)">Adhesion of lymphatic system cells</text>
<text x="374.4" y="645.7" font-size="9.35" fill="#000" stroke="#000" stroke-width="0.22" transform="matrix(1,0,0,1.03,0,-19.371)">Induction of lymphocytes</text>
<text x="483.9" y="655.4" font-size="9.35" fill="#000" stroke="#000" stroke-width="0.22" transform="matrix(1,0,0,1.03,0,-19.662)">Stimulation of cells</text>
<text x="470.2" y="681.5" font-size="9.35" fill="#000" stroke="#000" stroke-width="0.22" transform="matrix(1,0,0,1.03,0,-20.445)">Lymphopoiesis</text>
<text x="486.0" y="695.9" font-size="9.35" fill="#000" stroke="#000" stroke-width="0.22" transform="matrix(1,0,0,1.03,0,-20.877)">Adhesion of mononuclear leukocytes</text>
<text x="353.4" y="717.0" font-size="9.35" fill="#000" stroke="#000" stroke-width="0.22" transform="matrix(1,0,0,1.03,0,-21.510)">Pathogen Induced Cytokine Storm Signaling Pathway</text>
<rect x="170.8" y="733.4" width="322" height="85.4" fill="#fff" stroke="#1f2d4d" stroke-width="1.3"/>
<text x="184.0" y="761.7" font-size="10.45" fill="#000" stroke="#000" stroke-width="0.22" transform="matrix(1,0,0,1.03,0,-22.851)">Predicted activity</text>
<ellipse cx="203.2" cy="771.0" rx="9.6" ry="4.4" fill="#f0871a" stroke="#c9731c" stroke-width="0.6"/>
<ellipse cx="203.2" cy="783.8" rx="9.6" ry="4.4" fill="#9ccdf8" stroke="#7fb3e6" stroke-width="0.6"/>
<text x="225.8" y="774.1" font-size="10.45" fill="#000" stroke="#000" stroke-width="0.22" transform="matrix(1,0,0,1.03,0,-23.223)">Predicted activation</text>
<text x="225.8" y="787.0" font-size="10.45" fill="#000" stroke="#000" stroke-width="0.22" transform="matrix(1,0,0,1.03,0,-23.610)">Predicted inhibition</text>
<text x="341.0" y="748.1" font-size="10.45" fill="#000" stroke="#000" stroke-width="0.22" transform="matrix(1,0,0,1.03,0,-22.443)">Relationships between nodes</text>
<line x1="349.7" y1="757.3" x2="369.4" y2="757.3" stroke="#f39122" stroke-width="1.3"/>
<line x1="349.7" y1="769.7" x2="369.4" y2="769.7" stroke="#1a78ff" stroke-width="1.3"/>
<line x1="349.7" y1="783.3" x2="369.4" y2="783.3" stroke="#555" stroke-width="1" stroke-dasharray="1,2"/>
<line x1="349.7" y1="794.6" x2="369.4" y2="794.6" stroke="#555" stroke-width="1.3" stroke-dasharray="4,2.5"/>
<line x1="349.7" y1="807.0" x2="369.4" y2="807.0" stroke="#777" stroke-width="1.3"/>
<text x="382.5" y="760.5" font-size="10.45" fill="#000" stroke="#000" stroke-width="0.22" transform="matrix(1,0,0,1.03,0,-22.815)">Leads to activation</text>
<text x="382.5" y="772.8" font-size="10.45" fill="#000" stroke="#000" stroke-width="0.22" transform="matrix(1,0,0,1.03,0,-23.184)">Leads to activation</text>
<text x="382.5" y="784.9" font-size="10.45" fill="#000" stroke="#000" stroke-width="0.22" transform="matrix(1,0,0,1.03,0,-23.547)">Inferred relationship</text>
<text x="382.5" y="797.3" font-size="10.45" fill="#000" stroke="#000" stroke-width="0.22" transform="matrix(1,0,0,1.03,0,-23.919)">Indirect interaction</text>
<text x="382.5" y="809.6" font-size="10.45" fill="#000" stroke="#000" stroke-width="0.22" transform="matrix(1,0,0,1.03,0,-24.288)">Direct interaction</text>
</svg></body></html>
